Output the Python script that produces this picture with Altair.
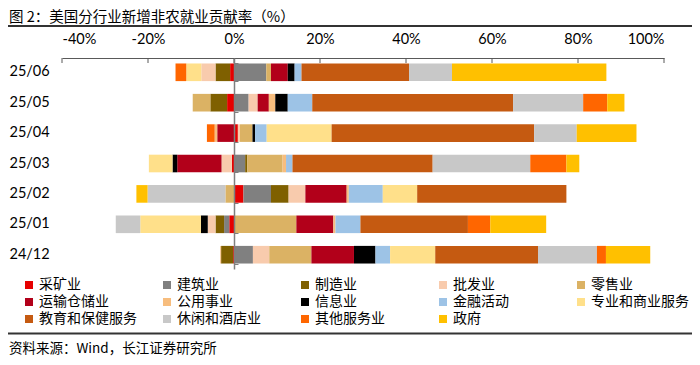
import altair as alt
import pandas as pd

months = ["25/06", "25/05", "25/04", "25/03", "25/02", "25/01", "24/12"]
categories = ["采矿业", "建筑业", "制造业", "批发业", "零售业",
              "运输仓储业", "公用事业", "信息业", "金融活动", "专业和商业服务",
              "教育和保健服务", "休闲和酒店业", "其他服务业", "政府"]
colors = ["#E60000", "#808080", "#7F6000", "#F8CBAD", "#DBB264",
          "#B2001A", "#F7BD7E", "#000000", "#9DC3E6", "#FFE08A",
          "#C55A11", "#C8C8C8", "#FF6600", "#FFC000"]

# contributions (%) per month, order: 25/06 ... 24/12
mining = [-0.9, -1.6, 0.9, -0.5, 2.2, -1.1, -0.2]
construction = [7.5, 3.4, 0.0, 2.6, 6.4, -1.2, 4.4]
manufacturing = [-3.4, -3.9, 0.0, 0.5, 4.1, -2.0, -2.8]
wholesale = [-3.3, 2.1, 0.5, -2.4, 3.9, -1.8, 3.8]
retail = [1.1, -4.1, 2.9, 8.2, -2.0, 14.5, 9.8]
transport = [3.9, 2.6, -3.9, -10.3, 9.6, 8.6, 9.9]
utilities = [0.0, 1.5, -0.6, 0.8, 0.5, 0.5, -0.2]
information = [1.6, 2.9, 0.6, -1.1, 0.0, -1.6, 5.0]
financial = [1.6, 5.7, 2.7, 1.5, 7.9, 5.8, 3.4]
professional = [-3.5, 0.0, 15.1, -5.5, 8.0, -14.1, 10.5]
education_health = [25.0, 46.7, 47.1, 32.6, 34.7, 25.0, 23.9]
leisure = [10.0, 16.3, 9.9, 22.7, -18.1, -5.7, 13.7]
other_services = [-2.5, 5.6, -1.8, 8.4, 0.0, 5.2, 2.1]
government = [35.9, 4.0, 13.9, 3.0, -2.6, 13.0, 10.3]

x_ticks = [-40, -20, 0, 20, 40, 60, 80, 100]
title_text = "图 2：美国分行业新增非农就业贡献率（%）"
source_text = "资料来源：Wind，长江证券研究所"

series = [mining, construction, manufacturing, wholesale, retail, transport,
          utilities, information, financial, professional, education_health,
          leisure, other_services, government]

rows = []
for i, (cat, vals) in enumerate(zip(categories, series)):
    for m, v in zip(months, vals):
        if v != 0:
            rows.append({"month": m, "cat": cat, "idx": i, "value": v})
df = pd.DataFrame(rows)

W, H = 602, 211
zero_pos = 40 / 140 * W

bars = alt.Chart(df).mark_bar().encode(
    y=alt.Y("month:N", sort=months,
            scale=alt.Scale(paddingInner=0.42, paddingOuter=0.18),
            axis=alt.Axis(title=None, orient="left", domain=False, ticks=False,
                          tickSize=0, labelAlign="left", labelPadding=53,
                          labelFontSize=14.5, labelFont="Lato", labelColor="#000",
                          labelBaseline="middle")),
    x=alt.X("value:Q", stack="zero",
            scale=alt.Scale(domain=[-40, 100], nice=False, zero=False),
            axis=alt.Axis(orient="top", values=x_ticks, labelExpr="datum.value + '%'",
                          ticks=False, tickSize=0, grid=False, domainColor="#595959",
                          labelFontSize=14.5, labelFont="Lato", labelColor="#000",
                          labelPadding=12, title=None)),
    color=alt.Color("cat:N", scale=alt.Scale(domain=categories, range=colors),
                    legend=alt.Legend(title=None, orient="none", legendX=-40, legendY=220,
                                      direction="horizontal", columns=5,
                                      symbolType="square", symbolSize=64,
                                      symbolStrokeWidth=0, labelFontSize=14,
                                      labelFont="Noto Sans CJK SC", labelColor="#000",
                                      labelOffset=3, columnPadding=23, rowPadding=3,
                                      gridAlign="all", padding=0)),
    order=alt.Order("idx:Q", sort="ascending"),
)

zero_axis = alt.Chart(pd.DataFrame({"month": months})).mark_point(opacity=0).encode(
    y=alt.Y("month:N", sort=months,
            axis=alt.Axis(orient="right", offset=zero_pos - W, labels=False,
                          domain=True, ticks=True, tickSize=4, tickBand="extent",
                          domainColor="#7f7f7f", tickColor="#7f7f7f",
                          domainWidth=1.5, tickWidth=1, title=None, zindex=1,
                          grid=False)),
    x=alt.datum(0),
)

tick_marks = alt.Chart(pd.DataFrame({"t": x_ticks})).mark_rule(
    color="#595959", strokeWidth=1
).encode(x="t:Q", y=alt.value(0), y2=alt.value(5))

title = alt.Chart(pd.DataFrame({"t": [title_text]})).mark_text(
    align="left", baseline="middle", fontSize=14.5, font="Noto Sans CJK SC", color="#000"
).encode(x=alt.value(-53), y=alt.value(-40.5), text="t:N")

line_top = alt.Chart(pd.DataFrame({"a": [0]})).mark_rule(
    color="#333333", strokeWidth=2
).encode(x=alt.value(-54), x2=alt.value(630), y=alt.value(-32))

line_bottom = alt.Chart(pd.DataFrame({"a": [0]})).mark_rule(
    color="#333333", strokeWidth=2
).encode(x=alt.value(-54), x2=alt.value(630), y=alt.value(275.5))

source = alt.Chart(pd.DataFrame({"t": [source_text]})).mark_text(
    align="left", baseline="middle", fontSize=13.5, font="Noto Sans CJK SC", color="#000"
).encode(x=alt.value(-53), y=alt.value(291), text="t:N")

chart = alt.layer(
    bars, zero_axis, tick_marks, title, line_top, line_bottom, source
).resolve_axis(y="independent").properties(
    width=W, height=H,
    padding={"left": 54, "top": 50, "right": 28, "bottom": 88},
    autosize=alt.AutoSizeParams(type="none"),
    background="white",
).configure_view(stroke=None)

chart.save("out.html", embed_options={"renderer": "svg", "actions": False})
